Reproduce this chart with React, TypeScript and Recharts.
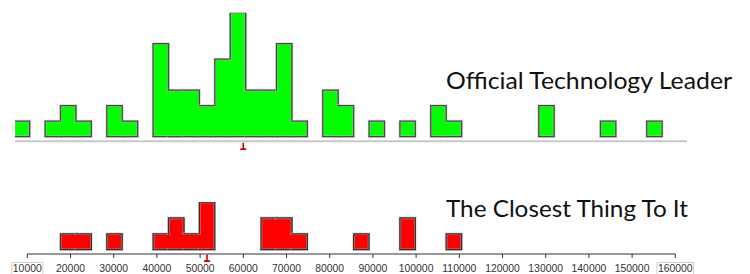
import { Bar, BarChart, ReferenceDot, XAxis, YAxis } from "recharts";

// histogram bins (same bin grid for both groups)
const BIN_START = 6921;
const BIN_WIDTH = 3571;

const LEADER_COUNTS = [
  1, 0, 1, 2, 1, 0, 2, 1, 0, 6, 3, 3, 2, 5, 8, 3, 3, 6, 1, 0, 3, 2, 0, 1, 0, 1, 0,
  2, 1, 0, 0, 0, 0, 0, 2, 0, 0, 0, 1, 0, 0, 1,
];
const CLOSEST_COUNTS = [
  0, 0, 0, 1, 1, 0, 1, 0, 0, 1, 2, 1, 3, 0, 0, 0, 2, 2, 1, 0, 0, 0, 1, 0, 0, 2, 0,
  0, 1, 0, 0, 0, 0, 0, 0, 0, 0, 0, 0, 0, 0, 0,
];

const LEADER_MEDIAN = 60000;
const CLOSEST_MEDIAN = 51600;

const AXIS_TICKS = [
  10000, 20000, 30000, 40000, 50000, 60000, 70000, 80000, 90000, 100000, 110000,
  120000, 130000, 140000, 150000, 160000,
];

const LEADER_LABEL = "Official Technology Leader";
const CLOSEST_LABEL = "The Closest Thing To It";

const TOP_DOMAIN: [number, number] = [7153, 162708];
const BOTTOM_DOMAIN: [number, number] = [10000, 160000];

const toRows = (counts: number[]) =>
  counts.map((count, i) => ({ i, x: BIN_START + BIN_WIDTH * (i + 0.5), count }));

const leaderRows = toRows(LEADER_COUNTS);
const closestRows = toRows(CLOSEST_COUNTS);

// draws a bin with only the outer outline of the histogram
// (bar is re-centred on its bin and given the full bin width)
function stepShape(counts: number[], stroke: string, binPx: number) {
  return (props: any) => {
    const { y, height, payload, fill } = props;
    const v = payload?.count ?? 0;
    if (!v || !height) return <g />;
    const cx = props.x + props.width / 2;
    const x = cx - binPx / 2;
    const width = binPx;
    const i = payload.i;
    const base = y + height;
    const unit = height / v;
    const left = counts[i - 1] ?? 0;
    const right = counts[i + 1] ?? 0;
    // overlap into the next bin so no seam shows between equal bins
    const overlap = right > 0 ? 0.8 : 0;
    let d = `M${x},${y}H${x + width}M${x},${base}H${x + width}`;
    if (left < v) d += `M${x},${y}V${base - left * unit}`;
    if (right < v) d += `M${x + width},${y}V${base - right * unit}`;
    return (
      <g>
        <rect x={x} y={y} width={width + overlap} height={height} fill={fill} />
        <path d={d} stroke="#bdbdbd" strokeWidth={2.6} fill="none" strokeLinecap="square" opacity={0.6} />
        <path d={d} stroke={stroke} strokeWidth={1.3} fill="none" strokeLinecap="square" />
      </g>
    );
  };
}

function medianMark(drop: number) {
  return (props: any) => {
    const { cx, cy } = props;
    return (
      <g stroke="#c80000" fill="none">
        <path d={`M${cx},${cy + drop}V${cy + drop + 6.5}`} strokeWidth={1.6} />
        <path d={`M${cx - 3},${cy + drop + 6.5}H${cx + 3}`} strokeWidth={1.8} />
      </g>
    );
  };
}

function AxisTick(props: any) {
  const { x, y, payload, index } = props;
  const boxed = index === 0 || index === AXIS_TICKS.length - 1;
  const w = String(payload.value).length * 5.6 + 3;
  return (
    <g>
      {boxed && (
        <rect x={x - w / 2} y={y + 2.5} width={w} height={16} fill="#fff" stroke="#cfcfcf" />
      )}
      <text
        x={x}
        y={y}
        dy={12.3}
        textAnchor="middle"
        fontSize={10.4}
        fontFamily="'Liberation Sans', Arial, sans-serif"
        fill="#333"
      >
        {payload.value}
      </text>
    </g>
  );
}

const plotWidthTop = 750 - 15 - 63;
const plotWidthBottom = 750 - 27.3 - 74.7;
const barTop = (BIN_WIDTH * plotWidthTop) / (TOP_DOMAIN[1] - TOP_DOMAIN[0]);
const barBottom = (BIN_WIDTH * plotWidthBottom) / (BOTTOM_DOMAIN[1] - BOTTOM_DOMAIN[0]);

export default function App() {
  return (
    <div
      style={{
        position: "absolute",
        left: 0,
        top: 0,
        width: 750,
        height: 274,
        background: "#fff",
        overflow: "hidden",
      }}
    >
      <div style={{ position: "absolute", left: 0, top: 0 }}>
        <BarChart
          width={750}
          height={150}
          data={leaderRows}
          margin={{ top: 12.65, right: 63, bottom: 7.7, left: 15 }}
          barCategoryGap={0}
          barGap={0}
        >
          <XAxis
            type="number"
            dataKey="x"
            domain={TOP_DOMAIN}
            allowDataOverflow
            ticks={AXIS_TICKS}
            tick={false}
            tickLine={false}
            height={1}
            axisLine={{ stroke: "#c8c8c8", strokeWidth: 2 }}
          />
          <YAxis hide domain={[-0.3, 8]} allowDataOverflow />
          <Bar
            dataKey="count"
            fill="#00ff00"
            barSize={barTop}
            isAnimationActive={false}
            shape={stepShape(LEADER_COUNTS, "#4a4a4a", barTop)}
          />
          <ReferenceDot
            x={LEADER_MEDIAN}
            y={-0.3}
            ifOverflow="visible"
            shape={medianMark(1.4)}
          />
        </BarChart>
      </div>
      <div style={{ position: "absolute", left: 0, top: 150 }}>
        <BarChart
          width={750}
          height={124}
          data={closestRows}
          margin={{ top: 52, right: 74.7, bottom: 0, left: 27.3 }}
          barCategoryGap={0}
          barGap={0}
        >
          <XAxis
            type="number"
            dataKey="x"
            domain={BOTTOM_DOMAIN}
            allowDataOverflow
            ticks={AXIS_TICKS}
            interval={0}
            height={20}
            tickSize={4}
            stroke="#333"
            tick={<AxisTick />}
          />
          <YAxis hide domain={[-0.27, 3]} allowDataOverflow />
          <Bar
            dataKey="count"
            fill="#ff0000"
            barSize={barBottom}
            isAnimationActive={false}
            shape={stepShape(CLOSEST_COUNTS, "#333", barBottom)}
          />
          <ReferenceDot
            x={CLOSEST_MEDIAN}
            y={-0.27}
            ifOverflow="visible"
            shape={medianMark(0.6)}
          />
        </BarChart>
      </div>
      <svg
        width={750}
        height={274}
        style={{ position: "absolute", left: 0, top: 0, pointerEvents: "none" }}
      >
        <text
          x={446}
          y={89.3}
          fontSize={24}
          fontFamily="Lato, 'Open Sans', sans-serif"
          fill="#111"
          textLength={286}
          lengthAdjust="spacingAndGlyphs"
        >
          {LEADER_LABEL}
        </text>
        <text
          x={446}
          y={217.3}
          fontSize={24}
          fontFamily="Lato, 'Open Sans', sans-serif"
          fill="#111"
          textLength={242}
          lengthAdjust="spacingAndGlyphs"
        >
          {CLOSEST_LABEL}
        </text>
      </svg>
    </div>
  );
}
